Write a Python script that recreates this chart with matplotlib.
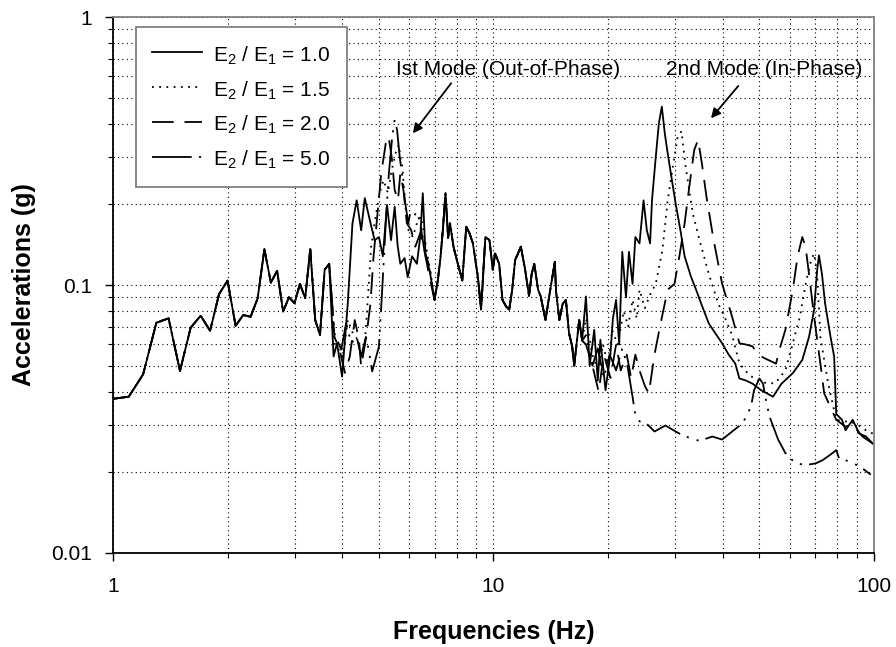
import matplotlib
matplotlib.use('Agg')
import matplotlib.pyplot as plt
from matplotlib.ticker import FuncFormatter, NullFormatter

plt.rcParams['font.family'] = ['Liberation Sans', 'DejaVu Sans']
plt.rcParams['mathtext.fontset'] = 'custom'
plt.rcParams['mathtext.rm'] = 'Liberation Sans'
plt.rcParams['mathtext.it'] = 'Liberation Sans:italic'
plt.rcParams['mathtext.bf'] = 'Liberation Sans:bold'

# stiffness ratios E2/E1
ratios = ['1.0', '1.5', '2.0', '5.0']

# low frequency part, common to all four cases
base_freq = [1.0, 1.1, 1.2, 1.3, 1.4, 1.5, 1.6, 1.7, 1.8, 1.9, 2.0, 2.1, 2.2, 2.3,
             2.4, 2.5, 2.6, 2.7, 2.8, 2.9, 3.0, 3.1, 3.2, 3.3, 3.4, 3.5, 3.6, 3.7]
base_acc = [0.0376, 0.0383, 0.0464, 0.0723, 0.0751, 0.0478, 0.0693, 0.0768, 0.0675,
            0.0925, 0.1038, 0.0705, 0.0773, 0.0761, 0.0892, 0.136, 0.102, 0.113,
            0.0795, 0.090, 0.0855, 0.101, 0.0892, 0.136, 0.074, 0.065, 0.114, 0.120]

# around the 1st mode (out-of-phase), per case
e10_mode1_freq = [3.80, 3.88, 4.00, 4.14, 4.26, 4.37, 4.49, 4.59, 4.73, 4.87, 5.00, 5.12, 5.25,
                  5.38, 5.50, 5.60, 5.69, 5.84, 5.95, 6.11, 6.29, 6.42, 6.52, 6.63, 6.79]
e10_mode1_acc = [0.0541, 0.0606, 0.0455, 0.0851, 0.170, 0.207, 0.160, 0.211, 0.175, 0.147, 0.151,
                 0.128, 0.199, 0.147, 0.196, 0.140, 0.120, 0.126, 0.107, 0.128, 0.120, 0.151,
                 0.220, 0.128, 0.114]

e15_mode1_freq = [3.82, 4.02, 4.14, 4.27, 4.40, 4.49, 4.59, 4.68, 4.77, 4.90, 5.02, 5.14,
                  5.28, 5.38, 5.53, 5.63, 5.76, 5.87, 5.98, 6.14, 6.29, 6.45, 6.65, 6.86]
e15_mode1_acc = [0.0606, 0.0541, 0.074, 0.066, 0.0625, 0.054, 0.0606, 0.0906, 0.139, 0.180,
                 0.220, 0.246, 0.220, 0.261, 0.310, 0.333, 0.276, 0.196, 0.160, 0.151, 0.170,
                 0.180, 0.139, 0.107]

e20_mode1_freq = [3.82, 3.94, 4.07, 4.19, 4.32, 4.43, 4.49, 4.63, 4.75, 4.84, 4.95, 5.07, 5.21,
                  5.30, 5.40, 5.50, 5.61, 5.69, 5.80, 5.92, 6.08, 6.23, 6.42, 6.58, 6.79]
e20_mode1_acc = [0.064, 0.0574, 0.047, 0.054, 0.074, 0.0625, 0.0496, 0.064, 0.0851, 0.128,
                 0.180, 0.261, 0.337, 0.358, 0.301, 0.226, 0.207, 0.261, 0.226, 0.170, 0.160,
                 0.139, 0.156, 0.135, 0.107]

e50_mode1_freq = [3.82, 3.98, 4.10, 4.23, 4.37, 4.49, 4.62, 4.70, 4.80, 5.00, 5.10, 5.21, 5.31,
                  5.42, 5.50, 5.58, 5.67, 5.76, 5.85, 5.97, 6.04, 6.17, 6.29, 6.42, 6.58, 6.79]
e50_mode1_acc = [0.066, 0.0574, 0.072, 0.0606, 0.064, 0.0541, 0.064, 0.0574, 0.0476, 0.0589,
                 0.096, 0.170, 0.261, 0.358, 0.413, 0.379, 0.301, 0.254, 0.207, 0.170, 0.185,
                 0.180, 0.188, 0.170, 0.135, 0.117]

# middle band, common to all four cases
mid_freq = [7.0, 7.14, 7.25, 7.36, 7.48, 7.6, 7.69, 7.85, 8.06, 8.28, 8.48, 8.65, 8.83, 9.1,
            9.28, 9.52, 9.76, 9.96, 10.1, 10.35, 10.56, 10.8, 11.0, 11.2, 11.4, 11.6, 11.8,
            12.1, 12.4, 12.6, 12.8, 13.1, 13.3, 13.7, 14.1, 14.5, 14.6, 14.9, 15.2, 15.5,
            15.8, 16.1, 16.3, 16.8, 17.1]
mid_acc = [0.088, 0.104, 0.125, 0.160, 0.220, 0.150, 0.170, 0.139, 0.120, 0.104, 0.165, 0.156,
           0.143, 0.107, 0.081, 0.151, 0.147, 0.114, 0.131, 0.120, 0.088, 0.083, 0.081, 0.096,
           0.124, 0.131, 0.139, 0.115, 0.091, 0.110, 0.120, 0.096, 0.091, 0.074, 0.096, 0.122,
           0.095, 0.074, 0.085, 0.088, 0.066, 0.059, 0.050, 0.074, 0.062]

# 2nd and 3rd modes, per case
e10_mode2_freq = [17.5, 17.9, 18.4, 18.8, 19.1, 19.7, 20.3, 20.6, 21.0, 21.4, 21.8, 22.3, 22.7,
                  23.2, 23.6, 24.2, 24.8, 25.3, 25.8, 26.1, 26.7, 27.2, 27.7, 28.2, 28.7, 29.4,
                  30.1, 31.0, 31.8, 33.0, 34.1, 35.4, 36.8, 38.3, 39.9, 41.5, 43.2, 44.3, 46.1,
                  48.0, 50.5, 54.3, 57.1, 61.2, 64.8, 67.5, 69.6, 70.9, 71.7, 73.0, 74.4, 76.9,
                  78.6, 79.6, 82.4, 84.2, 87.9, 91.5, 95.3, 99.3]
e10_mode2_acc = [0.0906, 0.050, 0.068, 0.044, 0.0625, 0.0405, 0.0556, 0.075, 0.088, 0.060, 0.133,
                 0.090, 0.133, 0.101, 0.151, 0.143, 0.207, 0.160, 0.143, 0.207, 0.300, 0.400,
                 0.463, 0.368, 0.310, 0.250, 0.202, 0.160, 0.128, 0.108, 0.0958, 0.083, 0.0719,
                 0.066, 0.0606, 0.055, 0.0509, 0.0448, 0.044, 0.0428, 0.0405, 0.0383, 0.0428,
                 0.0469, 0.0525, 0.064, 0.0808, 0.1135, 0.129, 0.110, 0.0853, 0.064, 0.054,
                 0.033, 0.0314, 0.0287, 0.0314, 0.0279, 0.0272, 0.0256]

e15_mode2_freq = [17.5, 18.2, 18.8, 19.4, 20.0, 20.5, 21.2, 22.0, 22.6, 23.2, 23.8, 24.2, 25.0,
                  25.8, 26.7, 27.8, 28.7, 29.6, 30.5, 31.2, 32.0, 33.4, 34.8, 36.8, 39.0, 40.5,
                  42.4, 44.3, 47.1, 49.7, 52.2, 55.0, 58.5, 61.2, 63.9, 66.4, 68.5, 69.6, 70.9,
                  72.3, 75.8, 79.6, 84.0, 89.3, 95.3, 99.3]
e15_mode2_acc = [0.075, 0.055, 0.048, 0.060, 0.050, 0.068, 0.060, 0.080, 0.070, 0.088, 0.075,
                 0.096, 0.082, 0.092, 0.101, 0.135, 0.207, 0.276, 0.358, 0.375, 0.276, 0.185,
                 0.147, 0.110, 0.085, 0.076, 0.065, 0.0509, 0.046, 0.044, 0.043, 0.043, 0.048,
                 0.0606, 0.0763, 0.104, 0.125, 0.131, 0.110, 0.064, 0.0428, 0.0314, 0.031,
                 0.0305, 0.0287, 0.0279]

e20_mode2_freq = [17.5, 18.2, 18.9, 19.5, 20.3, 21.0, 21.6, 22.4, 23.0, 23.6, 24.2, 25.0, 25.6,
                  26.5, 27.5, 28.7, 29.9, 30.8, 31.8, 32.7, 33.7, 34.5, 35.3, 36.3, 37.9, 39.9,
                  42.4, 44.3, 46.0, 48.0, 49.6, 52.0, 55.3, 56.4, 58.5, 61.2, 63.0, 64.8, 66.1,
                  67.5, 69.6, 72.3, 74.0, 79.6, 84.2, 88.0, 93.3, 99.3]
e20_mode2_acc = [0.060, 0.050, 0.040, 0.055, 0.045, 0.060, 0.048, 0.055, 0.045, 0.055, 0.048,
                 0.042, 0.0394, 0.055, 0.072, 0.096, 0.101, 0.128, 0.170, 0.232, 0.319, 0.348,
                 0.284, 0.213, 0.147, 0.101, 0.076, 0.0606, 0.0600, 0.0590, 0.0549, 0.053,
                 0.0509, 0.0572, 0.068, 0.096, 0.128, 0.151, 0.139, 0.110, 0.0763, 0.0509,
                 0.0394, 0.0314, 0.0296, 0.030, 0.0272, 0.0256]

e50_mode2_freq = [17.5, 18.2, 18.8, 19.5, 20.2, 21.0, 21.8, 22.5, 23.2, 23.6, 24.2, 25.2, 26.5,
                  28.3, 30.8, 32.5, 34.8, 37.6, 39.9, 42.4, 45.2, 47.5, 48.4, 50.0, 51.1, 52.2,
                  53.2, 56.0, 58.5, 62.2, 66.4, 70.3, 73.3, 76.9, 79.6, 81.0, 84.2, 87.9, 91.5,
                  95.3, 98.1]
e50_mode2_acc = [0.065, 0.050, 0.058, 0.045, 0.055, 0.048, 0.058, 0.050, 0.0383, 0.0327, 0.031,
                 0.0305, 0.0284, 0.0299, 0.0279, 0.027, 0.0262, 0.0272, 0.0265, 0.0284, 0.0305,
                 0.0351, 0.0405, 0.0448, 0.0428, 0.0362, 0.0322, 0.0265, 0.0236, 0.0216, 0.0213,
                 0.0216, 0.0222, 0.0233, 0.0242, 0.0225, 0.0222, 0.0216, 0.0211, 0.0202, 0.0196]

mode1 = [(e10_mode1_freq, e10_mode1_acc), (e15_mode1_freq, e15_mode1_acc),
         (e20_mode1_freq, e20_mode1_acc), (e50_mode1_freq, e50_mode1_acc)]
mode2 = [(e10_mode2_freq, e10_mode2_acc), (e15_mode2_freq, e15_mode2_acc),
         (e20_mode2_freq, e20_mode2_acc), (e50_mode2_freq, e50_mode2_acc)]
styles = ['-', (0, (1, 3)), (0, (12, 6)), (0, (22, 4, 1.2, 4.5, 1.2, 4))]

fig = plt.figure(figsize=(8.96, 6.47), dpi=100)
ax = fig.add_axes([0.1261, 0.1453, 0.8493, 0.8284])

for ratio, (f1, a1), (f2, a2), ls in zip(ratios, mode1, mode2, styles):
    freq = base_freq + f1 + mid_freq + f2
    acc = base_acc + a1 + mid_acc + a2
    ax.plot(freq, acc, color='black', lw=1.3, linestyle=ls,
            label=r'E$_2$ / E$_1$ = ' + ratio)

ax.set_xscale('log')
ax.set_yscale('log')
ax.set_xlim(1, 100)
ax.set_ylim(0.01, 1)

fmt = FuncFormatter(lambda v, _: f'{v:g}')
ax.xaxis.set_major_formatter(fmt)
ax.yaxis.set_major_formatter(fmt)
ax.xaxis.set_minor_formatter(NullFormatter())
ax.yaxis.set_minor_formatter(NullFormatter())

ax.grid(True, which='both', color='black', linestyle=(0, (1, 3)), linewidth=0.8)
ax.set_axisbelow(True)

ax.tick_params(which='major', direction='out', length=5.5, width=1, labelsize=15)
ax.tick_params(which='minor', direction='out', length=3.6, width=0.8)
ax.tick_params(axis='x', which='major', pad=12)
ax.tick_params(axis='y', which='major', pad=9.5)

for side in ['left', 'bottom']:
    ax.spines[side].set_color('black')
    ax.spines[side].set_linewidth(1.3)
for side in ['top', 'right']:
    ax.spines[side].set_color('#808080')
    ax.spines[side].set_linewidth(1.3)

ax.set_xlabel('Frequencies (Hz)', fontsize=18, fontweight='bold')
ax.set_ylabel('Accelerations (g)', fontsize=18, fontweight='bold')
ax.xaxis.set_label_coords(0.5, -0.125)
ax.yaxis.set_label_coords(-0.101, 0.5)

leg = ax.legend(loc='upper left', bbox_to_anchor=(0.0298, 0.981), borderaxespad=0,
                fontsize=15, frameon=True, fancybox=False, framealpha=1,
                edgecolor='#808080', handlelength=2.4, handleheight=1.25,
                handletextpad=0.55, borderpad=0.78, labelspacing=0.55)
leg.get_frame().set_linewidth(1.3)

ax.text(5.53, 0.61, 'Ist Mode (Out-of-Phase)', fontsize=15, ha='left', va='baseline')
ax.text(28.4, 0.61, '2nd Mode (In-Phase)', fontsize=15, ha='left', va='baseline')
arrow = dict(arrowstyle='-|>', color='black', lw=1.3, mutation_scale=14, shrinkA=0, shrinkB=0)
ax.annotate('', xy=(6.14, 0.368), xytext=(7.74, 0.566), arrowprops=arrow)
ax.annotate('', xy=(37.3, 0.419), xytext=(44.0, 0.553), arrowprops=arrow)

fig.savefig('out.png', dpi=100)
